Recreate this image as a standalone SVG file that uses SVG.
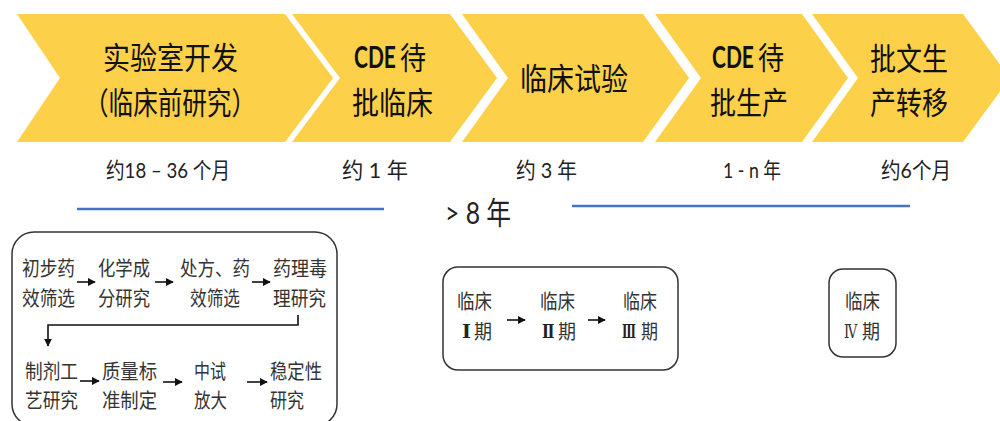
<svg xmlns="http://www.w3.org/2000/svg" width="1000" height="421" viewBox="0 0 1000 421">
<style>
.chev{fill:#FCD048;}
.ct{font-family:"Noto Sans CJK SC","Noto Sans",sans-serif;font-size:31px;fill:#111;}
.cde{font-family:Lato,"Liberation Sans",sans-serif;font-weight:bold;font-size:30px;fill:#111;}
.dur{font-family:Lato,"Noto Sans CJK SC",sans-serif;font-size:22px;fill:#222;}
.big{font-family:Lato,"Noto Sans CJK SC",sans-serif;font-size:31px;fill:#222;}
.bt{font-family:"Noto Sans CJK SC",sans-serif;font-size:20px;fill:#333;}
.rn{font-family:"DejaVu Serif","Liberation Serif",serif;font-size:19px;font-weight:bold;fill:#222;}
.rn4{font-family:"DejaVu Serif","Liberation Serif",serif;font-size:19px;fill:#333;}
.box{fill:none;stroke:#333;stroke-width:1.5;}
.arr{stroke:#111;stroke-width:1.6;fill:none;marker-end:url(#ah);}
.blue{stroke:#4472C4;stroke-width:2.5;}
</style>
<defs>
<marker id="ah" viewBox="0 0 10 10" refX="9" refY="5" markerWidth="5" markerHeight="5" orient="auto" markerUnits="strokeWidth">
<path d="M0,0 L10,5 L0,10 z" fill="#111"/>
</marker>
</defs>
<rect width="1000" height="421" fill="#fff"/>

<g id="stage1">
<polygon class="chev" points="17,14 285,14 333,78 285,142 17,142 60,78"/>
<text class="ct" x="103" y="69" textLength="135" lengthAdjust="spacingAndGlyphs">实验室开发</text>
<text class="ct" x="84" y="114" textLength="172" lengthAdjust="spacingAndGlyphs">（临床前研究）</text>
</g>
<g id="stage2">
<polygon class="chev" points="292,14 450,14 497,78 450,142 292,142 340,78"/>
<text class="cde" transform="translate(354,68) scale(0.7,1)">CDE</text>
<text class="ct" x="400" y="69" textLength="26" lengthAdjust="spacingAndGlyphs">待</text>
<text class="ct" x="352" y="114" textLength="81" lengthAdjust="spacingAndGlyphs">批临床</text>
</g>
<g id="stage3">
<polygon class="chev" points="462,14 643,14 689,78 643,142 462,142 508,78"/>
<text class="ct" x="520" y="90" textLength="108" lengthAdjust="spacingAndGlyphs">临床试验</text>
</g>
<g id="stage4">
<polygon class="chev" points="655,14 802,14 848,78 802,142 655,142 701,78"/>
<text class="cde" transform="translate(712,68) scale(0.7,1)">CDE</text>
<text class="ct" x="758" y="69" textLength="26" lengthAdjust="spacingAndGlyphs">待</text>
<text class="ct" x="710" y="114" textLength="78" lengthAdjust="spacingAndGlyphs">批生产</text>
</g>
<g id="stage5">
<polygon class="chev" points="812,14 963,14 1010,78 963,142 812,142 858,78"/>
<text class="ct" x="870" y="70" textLength="78" lengthAdjust="spacingAndGlyphs">批文生</text>
<text class="ct" x="870" y="114" textLength="78" lengthAdjust="spacingAndGlyphs">产转移</text>
</g>

<g id="durations">
<text class="dur" x="106" y="178" textLength="124" lengthAdjust="spacingAndGlyphs">约18 – 36 个月</text>
<text class="dur" x="342" y="178" textLength="66" lengthAdjust="spacingAndGlyphs">约 1 年</text>
<text class="dur" x="516" y="178" textLength="61" lengthAdjust="spacingAndGlyphs">约 3 年</text>
<text class="dur" x="723" y="178" textLength="58" lengthAdjust="spacingAndGlyphs">1 - n 年</text>
<text class="dur" x="881" y="178" textLength="70" lengthAdjust="spacingAndGlyphs">约6个月</text>
<text class="big" x="445" y="224" textLength="66" lengthAdjust="spacingAndGlyphs">&gt; 8 年</text>
<line class="blue" x1="77" y1="209" x2="384" y2="209"/>
<line class="blue" x1="572" y1="206" x2="910" y2="206"/>
</g>

<g id="preclinical">
<rect class="box" x="12" y="232" width="325" height="194" rx="22"/>
<text class="bt" x="22" y="276" textLength="53" lengthAdjust="spacingAndGlyphs">初步药</text>
<text class="bt" x="22" y="306" textLength="53" lengthAdjust="spacingAndGlyphs">效筛选</text>
<text class="bt" x="98" y="276" textLength="52" lengthAdjust="spacingAndGlyphs">化学成</text>
<text class="bt" x="98" y="306" textLength="52" lengthAdjust="spacingAndGlyphs">分研究</text>
<text class="bt" x="180" y="276" textLength="70" lengthAdjust="spacingAndGlyphs">处方、药</text>
<text class="bt" x="190" y="306" textLength="50" lengthAdjust="spacingAndGlyphs">效筛选</text>
<text class="bt" x="273" y="276" textLength="54" lengthAdjust="spacingAndGlyphs">药理毒</text>
<text class="bt" x="273" y="306" textLength="53" lengthAdjust="spacingAndGlyphs">理研究</text>
<text class="bt" x="25" y="379" textLength="53" lengthAdjust="spacingAndGlyphs">制剂工</text>
<text class="bt" x="25" y="408" textLength="53" lengthAdjust="spacingAndGlyphs">艺研究</text>
<text class="bt" x="102" y="379" textLength="55" lengthAdjust="spacingAndGlyphs">质量标</text>
<text class="bt" x="102" y="408" textLength="55" lengthAdjust="spacingAndGlyphs">准制定</text>
<text class="bt" x="194" y="379" textLength="32" lengthAdjust="spacingAndGlyphs">中试</text>
<text class="bt" x="194" y="408" textLength="33" lengthAdjust="spacingAndGlyphs">放大</text>
<text class="bt" x="270" y="379" textLength="52" lengthAdjust="spacingAndGlyphs">稳定性</text>
<text class="bt" x="270" y="408" textLength="34" lengthAdjust="spacingAndGlyphs">研究</text>
</g>

<g id="clinical123">
<rect class="box" x="443" y="267" width="235" height="103" rx="15"/>
<text class="bt" x="457" y="309" textLength="35" lengthAdjust="spacingAndGlyphs">临床</text>
<text class="rn" x="462" y="338">Ⅰ</text>
<text class="bt" x="474" y="339" textLength="18" lengthAdjust="spacingAndGlyphs">期</text>
<text class="bt" x="540" y="309" textLength="35" lengthAdjust="spacingAndGlyphs">临床</text>
<text class="rn" transform="translate(542,338) scale(0.78,1)">Ⅱ</text>
<text class="bt" x="558" y="339" textLength="18" lengthAdjust="spacingAndGlyphs">期</text>
<text class="bt" x="623" y="309" textLength="34" lengthAdjust="spacingAndGlyphs">临床</text>
<text class="rn" transform="translate(622,338) scale(0.6,1)">Ⅲ</text>
<text class="bt" x="641" y="339" textLength="17" lengthAdjust="spacingAndGlyphs">期</text>
</g>

<g id="clinical4">
<rect class="box" x="829" y="269" width="67" height="88" rx="14"/>
<text class="bt" x="845" y="309" textLength="35" lengthAdjust="spacingAndGlyphs">临床</text>
<text class="rn4" transform="translate(844,338) scale(0.7,1)">Ⅳ</text>
<text class="bt" x="862" y="339" textLength="18" lengthAdjust="spacingAndGlyphs">期</text>
</g>

<g id="connectors">
<line class="arr" x1="77" y1="282" x2="95" y2="282"/>
<line class="arr" x1="155" y1="282" x2="173" y2="282"/>
<line class="arr" x1="252" y1="282" x2="270" y2="282"/>
<polyline class="arr" points="298,315 298,325 48,325 48,346"/>
<line class="arr" x1="80" y1="381" x2="99" y2="381"/>
<line class="arr" x1="163" y1="382" x2="182" y2="382"/>
<line class="arr" x1="247" y1="382" x2="267" y2="382"/>
<line class="arr" x1="507" y1="320" x2="525" y2="320"/>
<line class="arr" x1="588" y1="320" x2="605" y2="320"/>
</g>
</svg>
